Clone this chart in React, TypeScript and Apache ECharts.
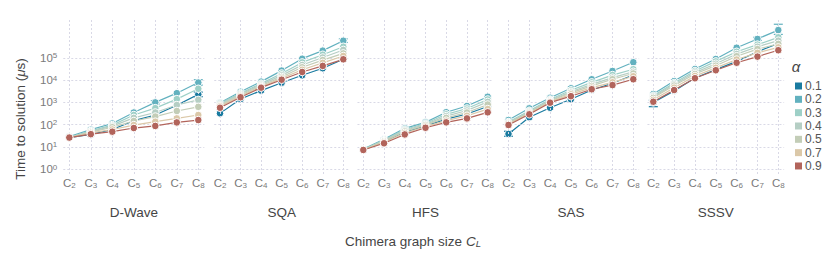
import React, { useEffect, useRef } from "react";
import * as echarts from "echarts";

// ---- data ----
const sizes = [2, 3, 4, 5, 6, 7, 8];
const alphas = ["0.1", "0.2", "0.3", "0.4", "0.5", "0.7", "0.9"];
const panelNames = ["D-Wave", "SQA", "HFS", "SAS", "SSSV"];
const yTickExponents = [0, 1, 2, 3, 4, 5];

// time to solution (µs), rows = alpha (0.1 ... 0.9), columns = C2 ... C8
const dwaveTimes = [
  [26, 36, 60, 150, 270, 740, 2300],
  [29, 59, 112, 350, 1000, 2600, 7800],
  [27, 52, 95, 270, 550, 1400, 4100],
  [26, 49, 85, 200, 350, 760, 1300],
  [26, 46, 76, 145, 230, 410, 630],
  [26, 42, 60, 95, 135, 190, 270],
  [26, 37, 48, 70, 87, 125, 160],
];
const sqaTimes = [
  [320, 1420, 3400, 7700, 16600, 34500, 87000],
  [970, 3000, 8600, 27000, 93000, 214000, 600000],
  [900, 2600, 7000, 20000, 63000, 140000, 320000],
  [800, 2350, 6300, 16500, 48000, 105000, 230000],
  [720, 2100, 5600, 14000, 38000, 80000, 160000],
  [660, 1900, 5000, 12000, 29500, 60000, 123000],
  [575, 1700, 4600, 10500, 23400, 44000, 87000],
];
const hfsTimes = [
  [7.3, 17, 46, 88, 175, 300, 650],
  [8, 22, 68, 126, 360, 690, 1800],
  [7.6, 20, 60, 112, 290, 530, 1350],
  [7.5, 19, 54, 102, 240, 430, 1050],
  [7.4, 18, 49, 94, 200, 350, 800],
  [7.3, 16, 42, 82, 150, 250, 500],
  [7.2, 14.4, 36, 72, 126, 190, 357],
];
const sasTimes = [
  [38, 213, 575, 1380, 3600, 7300, 17000],
  [160, 540, 1620, 4300, 11000, 26000, 64000],
  [130, 420, 1350, 3500, 8000, 17000, 31000],
  [120, 380, 1250, 3000, 6500, 13000, 24000],
  [115, 350, 1150, 2700, 5500, 11000, 20000],
  [105, 320, 1050, 2300, 4600, 8000, 15000],
  [96, 290, 970, 1900, 3900, 6000, 11000],
];
const sssvTimes = [
  [1000, 3300, 12500, 30000, 70000, 190000, 450000],
  [2400, 9100, 32000, 90000, 290000, 720000, 1800000],
  [2000, 7500, 26000, 70000, 190000, 400000, 850000],
  [1800, 6500, 22000, 55000, 150000, 320000, 600000],
  [1600, 5700, 19000, 45000, 120000, 250000, 430000],
  [1300, 4600, 15500, 36000, 85000, 170000, 300000],
  [1070, 3600, 12200, 28000, 61000, 115000, 223000],
];
const panelTimes = [dwaveTimes, sqaTimes, hfsTimes, sasTimes, sssvTimes];

// visible error bars: [panel, alpha index, size, low, high]
const errorBars = [
  [0, 1, 8, 6000, 10500],
  [0, 0, 8, 1800, 2900],
  [0, 1, 6, 850, 1200],
  [1, 1, 8, 500000, 720000],
  [3, 0, 2, 30, 50],
  [4, 1, 8, 1150000, 3300000],
  [4, 1, 7, 620000, 850000],
  [4, 0, 2, 640, 1250],
];

// ---- styling / layout ----
const colors = ["#1a7ba0", "#62b1bf", "#9ed0c7", "#b5cec4", "#c3cdb7", "#dbc8a8", "#b2645b"];
const FONT = "'Liberation Sans', Arial, Helvetica, sans-serif";
const panelC2 = [69.3, 220, 363.3, 508.5, 653.3];
const panelC8 = [198.3, 343.3, 487.7, 633.3, 778.3];
const PAD = 0.28;
const TOP = 18;
const HEIGHT = 156;
const Y_MIN = Math.pow(10, -0.225);
const Y_MAX = Math.pow(10, 6.8);
const GRID_COLOR = "#d9d9e6";
const TICK_COLOR = "#7a7a7a";

export default function App() {
  const ref = useRef<HTMLDivElement>(null);
  useEffect(() => {
    if (!ref.current) return;
    document.body.style.margin = "0";
    const chart = echarts.init(ref.current, null, { renderer: "svg" });

    const grids: any[] = [];
    const xAxes: any[] = [];
    const yAxes: any[] = [];
    const series: any[] = [];
    const graphics: any[] = [];

    panelNames.forEach((name, p) => {
      const s = (panelC8[p] - panelC2[p]) / 6;
      const left = panelC2[p] - PAD * s;
      const width = (6 + 2 * PAD) * s;
      grids.push({ left, top: TOP, width, height: HEIGHT });
      xAxes.push({
        type: "value",
        gridIndex: p,
        min: 2 - PAD,
        max: 8 + PAD,
        minInterval: 1,
        maxInterval: 1,
        axisLine: { show: false },
        axisTick: { show: false },
        splitLine: { show: false },
        axisLabel: {
          margin: 3,
          showMinLabel: false,
          showMaxLabel: false,
          formatter: (v: number) => {
            const r = Math.round(v);
            if (Math.abs(v - r) > 1e-6 || r < 2 || r > 8) return "";
            return "{c|C}{s|" + r + "}";
          },
          rich: {
            c: { fontSize: 11.5, color: TICK_COLOR, fontFamily: FONT, lineHeight: 12, verticalAlign: "top", padding: [0, 0, 2, 0] },
            s: { fontSize: 8, color: TICK_COLOR, fontFamily: FONT, lineHeight: 8, verticalAlign: "bottom" },
          },
        },
      });
      yAxes.push({
        type: "log",
        logBase: 10,
        gridIndex: p,
        min: Y_MIN,
        max: Y_MAX,
        axisLine: { show: false },
        axisTick: { show: false },
        splitLine: { show: false },
        axisLabel: {
          show: p === 0,
          margin: 6,
          formatter: (v: number) => {
            const e = Math.log10(v);
            const r = Math.round(e);
            if (Math.abs(e - r) > 1e-6 || yTickExponents.indexOf(r) < 0) return "";
            return "{t|10}{u|" + r + "}";
          },
          rich: {
            t: { fontSize: 11.5, color: TICK_COLOR, fontFamily: FONT, lineHeight: 12, verticalAlign: "bottom", padding: [3, 0, 0, 0] },
            u: { fontSize: 8, color: TICK_COLOR, fontFamily: FONT, lineHeight: 8, verticalAlign: "top" },
          },
        },
      });

      // grid lines
      series.push({
        type: "line",
        xAxisIndex: p,
        yAxisIndex: p,
        data: [],
        silent: true,
        z: 1,
        markLine: {
          silent: true,
          symbol: ["none", "none"],
          label: { show: false },
          animation: false,
          lineStyle: { color: GRID_COLOR, type: [2, 2], width: 1 },
          data: [
            ...sizes.map((x) => ({ xAxis: x })),
            ...yTickExponents.map((e) => ({ yAxis: Math.pow(10, e) })),
          ],
        },
      });

      // error bars
      const errs = errorBars.filter((e) => e[0] === p).map((e) => [e[2], e[3], e[4], e[1]]);
      series.push({
        type: "custom",
        xAxisIndex: p,
        yAxisIndex: p,
        z: 3,
        silent: true,
        encode: { x: 0, y: [1, 2] },
        data: errs,
        renderItem: (params: any, api: any) => {
          const x = api.value(0);
          const lo = api.coord([x, api.value(1)]);
          const hi = api.coord([x, api.value(2)]);
          const c = colors[api.value(3)];
          const st = { stroke: c, lineWidth: 1.2 };
          return {
            type: "group",
            children: [
              { type: "line", shape: { x1: lo[0], y1: lo[1], x2: hi[0], y2: hi[1] }, style: st },
              { type: "line", shape: { x1: lo[0] - 4.5, y1: lo[1], x2: lo[0] + 4.5, y2: lo[1] }, style: st },
              { type: "line", shape: { x1: hi[0] - 4.5, y1: hi[1], x2: hi[0] + 4.5, y2: hi[1] }, style: st },
            ],
          };
        },
      });

      panelTimes[p].forEach((vals, a) => {
        series.push({
          type: "line",
          name: alphas[a],
          xAxisIndex: p,
          yAxisIndex: p,
          z: 4 + a,
          data: sizes.map((x, j) => [x, vals[j]]),
          symbol: "circle",
          symbolSize: 7.5,
          showSymbol: true,
          lineStyle: { color: colors[a], width: 1.2 },
          itemStyle: { color: colors[a], borderColor: "#ffffff", borderWidth: 1 },
          emphasis: { disabled: true },
        });
      });

      graphics.push({
        type: "text",
        x: (panelC2[p] + panelC8[p]) / 2,
        y: 212,
        style: {
          text: name,
          fontSize: 13.5,
          fontFamily: FONT,
          fill: "#454545",
          textAlign: "center",
          textVerticalAlign: "middle",
        },
      });
    });

    graphics.push({
      type: "text",
      x: 413,
      y: 241,
      style: {
        text: "Chimera graph size {i|C}{s|L}",
        fontSize: 13.5,
        fontFamily: FONT,
        fill: "#454545",
        textAlign: "center",
        textVerticalAlign: "middle",
        rich: {
          i: { fontSize: 13.5, fontStyle: "italic", fontFamily: FONT, fill: "#454545", lineHeight: 14, verticalAlign: "top", padding: [0, 0, 3, 0] },
          s: { fontSize: 9.5, fontStyle: "italic", fontFamily: FONT, fill: "#454545", lineHeight: 10, verticalAlign: "bottom" },
        },
      },
    });
    graphics.push({
      type: "text",
      x: 20,
      y: 119,
      rotation: Math.PI / 2,
      style: {
        text: "Time to solution ({i|μ}s)",
        fontSize: 13.5,
        fontFamily: FONT,
        fill: "#454545",
        textAlign: "center",
        textVerticalAlign: "middle",
        rich: {
          i: { fontSize: 13.5, fontStyle: "italic", fontFamily: FONT, fill: "#454545" },
        },
      },
    });
    graphics.push({
      type: "text",
      x: 796,
      y: 66,
      style: {
        text: "α",
        fontSize: 15,
        fontStyle: "italic",
        fontFamily: FONT,
        fill: "#454545",
        textAlign: "center",
        textVerticalAlign: "middle",
      },
    });

    chart.setOption({
      animation: false,
      backgroundColor: "#ffffff",
      grid: grids,
      xAxis: xAxes,
      yAxis: yAxes,
      series,
      graphic: graphics,
      legend: {
        data: alphas,
        orient: "vertical",
        left: 790,
        top: 75,
        itemWidth: 7,
        itemHeight: 7,
        itemGap: 1.33,
        icon: "rect",
        selectedMode: false,
        itemStyle: { borderWidth: 0 },
        textStyle: { fontSize: 12, lineHeight: 12, color: "#555555", fontFamily: FONT, padding: [0, 0, 0, -2] },
      },
    });
    return () => chart.dispose();
  }, []);
  return <div ref={ref} style={{ position: "fixed", left: 0, top: 0, width: 830, height: 277 }} />;
}
